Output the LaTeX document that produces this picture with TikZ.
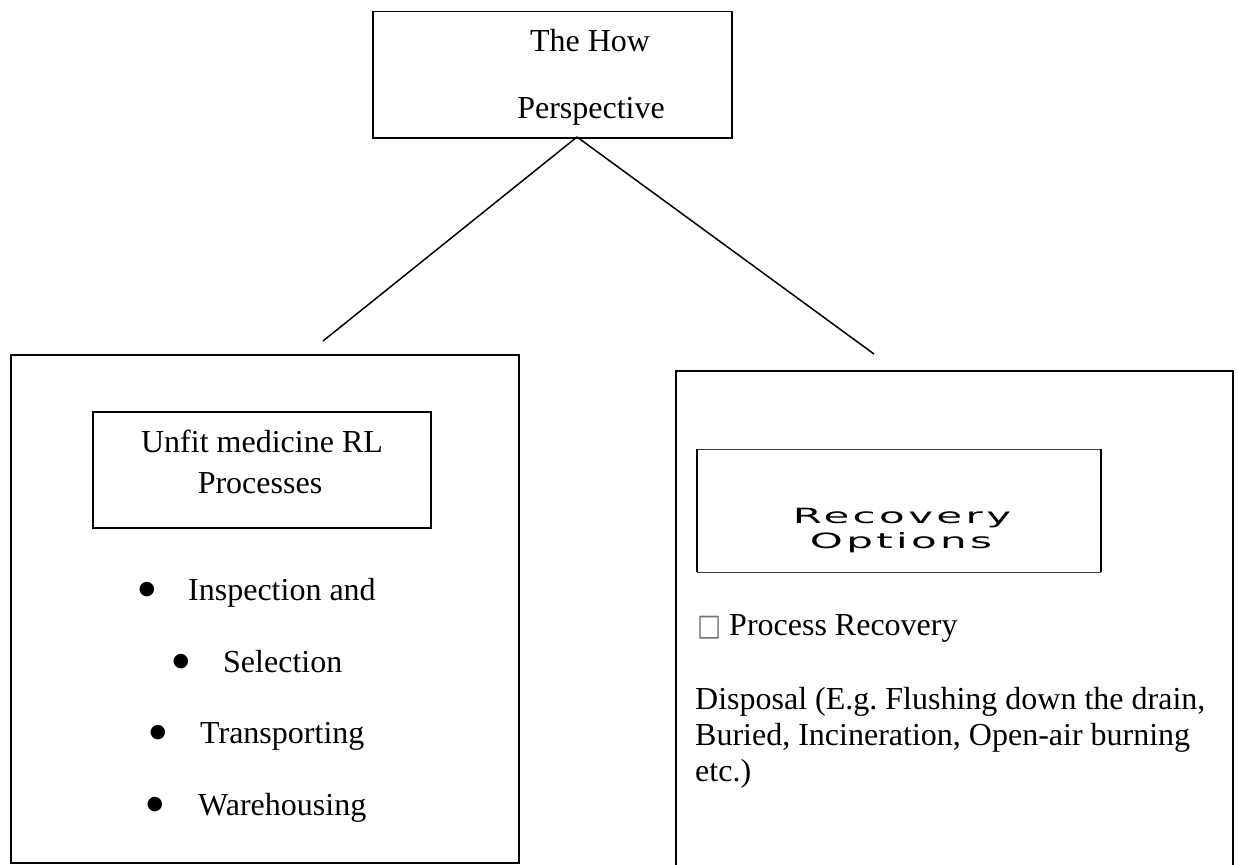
\documentclass[tikz,border=0pt]{standalone}
\usepackage{fontspec}
\setmainfont{Liberation Serif}
\newfontfamily\recfont[LetterSpace=8]{DejaVu Sans}
\newfontfamily\symfont{DejaVu Sans}
\frenchspacing
\begin{document}
\begin{tikzpicture}[x=1pt,y=-1pt,
  box/.style={draw, line width=1.5pt, inner sep=0pt, anchor=north west},
  txt/.style={inner sep=0pt, font=\fontsize{32}{35}\selectfont},
  bul/.style={inner sep=0pt, anchor=center, font=\symfont\fontsize{19}{19}\selectfont},
  rec/.style={inner sep=0pt, font=\recfont\fontsize{21}{24}\selectfont}]
\useasboundingbox (0,0) rectangle (1238,864);
% top box
\node[box, minimum width=359pt, minimum height=126pt] (how) at (372,11) {};
\node[txt, anchor=base] (how1) at (590,52) {The How};
\node[txt, anchor=base] (how2) at (591,118) {Perspective};
% connectors
\coordinate (apex) at (577,137);
\coordinate (lend) at (323,341);
\coordinate (rend) at (874,354);
\draw[line width=1.5pt] (apex) -- (lend);
\draw[line width=1.5pt] (apex) -- (rend);
% left box
\node[box, minimum width=508pt, minimum height=508pt] (left) at (10,354) {};
\node[box, minimum width=338pt, minimum height=116pt] (unfit) at (92,411) {};
\node[txt, anchor=base] (unfit1) at (262,452) {Unfit medicine RL};
\node[txt, anchor=base] (unfit2) at (260,493) {Processes};
\node[bul] (b1) at (147,590) {●};
\node[txt, anchor=base west] (t1) at (188,600) {Inspection and};
\node[bul] (b2) at (181,662) {●};
\node[txt, anchor=base west] (t2) at (223,672) {Selection};
\node[bul] (b3) at (158,733) {●};
\node[txt, anchor=base west] (t3) at (200,743) {Transporting};
\node[bul] (b4) at (155,805) {●};
\node[txt, anchor=base west] (t4) at (198,815) {Warehousing};
% right box
\node[box, minimum width=557pt, minimum height=500pt] (right) at (675,370) {};
\coordinate (rnw) at (697,449);
\coordinate (rse) at (1101,572);
\draw[line width=1pt, black!75] (rnw) -- (rnw -| rse);
\draw[line width=1pt, black!75] (rse -| rnw) -- (rse);
\draw[line width=2.6pt] (rnw) -- (rse -| rnw);
\draw[line width=2.6pt] (rnw -| rse) -- (rse);
\node[rec, anchor=base] (rec1) at (902,523) {\scalebox{2.0}[1]{Recovery}};
\node[rec, anchor=base] (rec2) at (901,548) {\scalebox{2.0}[1]{Options}};
\node[inner sep=0pt, anchor=base west, text=black!55, font=\symfont\fontsize{30}{30}\selectfont] (tofu) at (697,635) {\scalebox{0.85}[1]{□}};
\node[txt, anchor=base west] (pr) at (729,635) {Process Recovery};
\node[txt, anchor=base west] (d1) at (695,709) {Disposal (E.g. Flushing down the drain,};
\node[txt, anchor=base west] (d2) at (695,745) {Buried, Incineration, Open-air burning};
\node[txt, anchor=base west] (d3) at (695,781) {etc.)};
\end{tikzpicture}
\end{document}
